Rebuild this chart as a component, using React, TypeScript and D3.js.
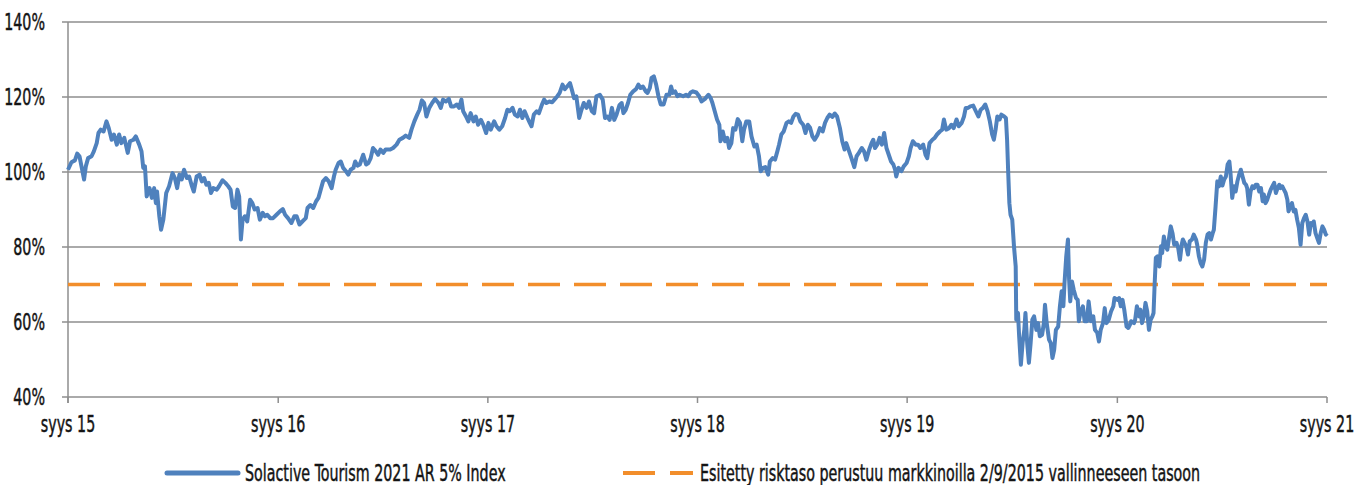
import * as d3 from "d3";
import { useEffect, useRef } from "react";

const WIDTH = 1369;
const HEIGHT = 485;

const startDate = new Date(2015, 8, 1);
const endDate = new Date(2021, 8, 1);

// [days after 1.9.2015, index level %]
const index2015 = [
  [0, 100.6], [6, 102.6], [12, 103.1], [16, 104.9], [20, 104.2], [24, 101.1], [28, 98.0], [31, 101.5],
  [35, 103.7], [41, 104.2], [45, 105.5], [50, 107.7], [53, 110.4], [57, 111.3], [62, 110.8], [67, 113.5],
  [71, 111.7], [76, 108.6], [80, 110.0], [85, 107.3], [89, 110.0], [93, 107.7], [98, 109.1], [104, 105.1],
  [108, 108.2], [114, 108.6], [118, 109.5], [124, 107.3], [128, 105.5], [131, 101.1], [134, 101.5], [137, 93.5],
  [142, 95.7], [146, 93.1], [150, 95.7], [153, 91.7], [155, 94.8], [159, 88.2], [162, 84.6], [166, 87.3],
  [171, 94.4], [176, 96.2], [182, 99.7], [186, 98.4], [190, 95.7], [194, 99.3], [198, 98.0], [202, 100.6],
  [207, 98.4], [211, 98.8], [215, 96.6], [219, 94.8], [224, 98.8], [229, 99.3], [233, 97.5], [237, 98.4],
  [241, 96.6], [245, 97.1], [249, 94.4], [253, 95.7], [259, 95.3], [263, 96.2], [269, 97.8], [274, 97.1],
  [279, 96.2], [283, 95.3], [287, 90.8], [291, 90.4], [295, 95.3], [298, 93.5], [301, 82.0], [304, 87.3],
  [308, 88.2], [312, 86.8], [317, 92.6], [321, 91.7], [325, 90.0], [330, 90.4], [334, 87.3], [339, 89.1],
  [343, 88.2], [347, 88.6], [352, 87.7], [357, 87.7], [363, 88.6], [369, 89.5], [374, 90.1], [378, 88.6],
  [383, 87.7], [389, 86.4], [394, 88.2], [398, 88.2], [403, 86.0], [408, 86.8], [414, 87.7], [417, 90.4],
  [422, 91.2], [427, 90.4], [432, 92.2], [436, 93.1], [440, 95.3], [444, 97.5], [449, 98.4], [454, 97.5],
  [459, 95.7], [463, 98.8], [466, 100.6], [471, 102.4], [475, 102.8], [479, 101.1], [484, 100.2], [488, 99.3],
  [492, 100.6], [497, 101.1], [500, 102.8], [504, 101.7], [508, 102.0], [514, 104.6], [519, 102.0], [523, 102.4],
  [527, 103.7], [531, 106.4], [536, 105.5], [540, 104.6], [544, 106.0], [549, 105.1], [553, 106.0],
];

const index2017 = [
  [561, 106.0], [566, 106.4], [572, 107.3], [577, 108.6], [583, 109.1], [588, 109.7], [594, 109.1], [598, 111.3],
  [603, 113.5], [608, 115.3], [612, 116.6], [616, 119.1], [620, 118.4], [624, 114.8], [629, 117.1], [634, 118.4],
  [639, 119.5], [645, 118.4], [649, 117.1], [653, 119.3], [658, 118.8], [663, 119.5], [667, 117.5], [672, 117.5],
  [677, 118.0], [681, 117.1], [685, 119.3], [688, 116.2], [693, 114.8], [697, 113.5], [701, 115.7], [706, 113.5],
  [710, 114.8], [714, 112.6], [719, 113.9], [723, 112.6], [728, 110.4], [732, 113.1], [736, 111.3], [742, 113.5],
  [746, 112.2], [751, 111.3], [756, 112.2], [761, 114.4], [765, 116.6], [769, 116.2], [774, 117.1], [778, 115.3],
  [783, 114.8], [787, 116.6], [791, 114.4], [795, 116.2], [800, 114.4], [804, 113.1], [807, 112.2], [811, 115.3],
  [816, 116.2], [820, 115.7], [825, 117.9], [829, 119.3], [833, 118.4], [838, 118.8], [843, 118.6], [848, 119.5],
  [852, 120.2], [856, 121.1], [861, 123.3], [865, 122.1], [869, 122.8], [874, 123.7], [878, 121.5], [881, 119.7],
  [885, 120.2], [890, 114.4], [894, 116.6], [898, 118.4], [903, 117.1], [907, 118.8], [912, 116.2], [916, 115.7],
  [920, 120.2], [926, 120.6], [931, 119.3], [935, 114.4], [939, 114.8], [943, 113.9], [947, 117.1], [951, 113.9],
  [955, 115.3], [960, 117.8], [964, 118.4], [967, 115.7], [971, 116.6], [975, 118.4], [979, 120.6], [984, 121.5],
  [989, 122.1], [993, 123.3], [997, 122.4], [1001, 122.8], [1006, 121.5], [1009, 121.1], [1013, 122.4], [1016, 125.1],
  [1020, 125.5], [1024, 123.3], [1028, 120.2], [1032, 118.0], [1037, 118.0], [1042, 120.6], [1047, 120.6], [1050, 122.8],
  [1053, 121.1], [1057, 121.5], [1061, 120.2], [1065, 120.6], [1071, 120.2], [1076, 120.6], [1080, 120.2],
];

const index2018 = [
  [1084, 121.2], [1088, 121.5], [1094, 121.2], [1099, 120.2], [1103, 118.8], [1109, 119.5], [1115, 120.6], [1119, 119.7],
  [1122, 118.4], [1126, 116.2], [1130, 114.0], [1134, 112.6], [1136, 108.2], [1140, 110.8], [1144, 108.2], [1148, 109.1],
  [1151, 106.4], [1155, 107.7], [1158, 111.7], [1162, 111.3], [1166, 114.1], [1170, 113.1], [1174, 108.2], [1177, 111.3],
  [1181, 113.5], [1186, 113.5], [1190, 109.5], [1195, 106.8], [1199, 107.3], [1203, 104.2], [1206, 100.2], [1210, 101.1],
  [1214, 101.3], [1219, 99.3], [1222, 102.8], [1227, 103.7], [1231, 103.3], [1235, 105.5], [1238, 107.3], [1242, 110.0],
  [1246, 110.8], [1251, 113.1], [1255, 113.5], [1259, 113.1], [1263, 114.8], [1267, 115.5], [1271, 115.3], [1275, 113.5],
  [1280, 112.6], [1284, 110.4], [1288, 112.6], [1292, 111.8], [1296, 109.5], [1300, 108.6], [1305, 109.9], [1309, 111.7],
  [1314, 110.8], [1318, 113.1], [1322, 114.4], [1326, 115.3], [1331, 114.7], [1335, 115.6], [1339, 114.8], [1344, 111.7],
  [1348, 108.2], [1352, 106.0], [1355, 107.7], [1360, 105.5], [1364, 103.7], [1369, 101.3], [1373, 104.2], [1377, 105.1],
  [1382, 106.4], [1386, 105.5], [1390, 103.3], [1395, 106.0], [1399, 107.7], [1402, 108.6], [1405, 106.4], [1409, 107.3],
  [1413, 109.1], [1417, 107.3], [1421, 110.4], [1425, 106.4], [1429, 104.6], [1433, 102.8], [1437, 102.0], [1440, 100.6],
  [1442, 98.8], [1446, 101.1], [1451, 100.2], [1455, 101.5], [1460, 102.4], [1464, 104.2], [1467, 106.4], [1471, 108.2],
  [1476, 107.3], [1480, 107.3], [1484, 106.4], [1489, 107.3], [1493, 104.6], [1496, 103.7], [1500, 107.7], [1505, 108.6],
  [1509, 109.1], [1513, 110.0], [1518, 110.8], [1522, 111.3], [1525, 114.0], [1529, 111.3], [1534, 111.7], [1538, 112.6],
  [1542, 111.7], [1547, 114.0], [1551, 112.2], [1556, 113.1], [1560, 114.8], [1563, 117.1], [1567, 117.1], [1571, 117.5],
  [1576, 117.7], [1580, 116.4], [1585, 114.8], [1589, 116.6], [1593, 117.1], [1597, 118.0], [1601, 116.2], [1605, 113.5],
  [1609, 110.0], [1612, 108.6], [1615, 111.3], [1618, 114.8], [1622, 114.0], [1625, 115.3], [1630, 114.8], [1633, 114.4],
];

const index2020 = [
  [1635, 108.6], [1637, 99.7], [1639, 91.7], [1641, 88.6], [1644, 87.3], [1647, 80.2], [1650, 74.8], [1651, 60.6],
  [1654, 62.4], [1656, 56.2], [1659, 48.6], [1662, 54.4], [1665, 57.9], [1667, 62.4], [1670, 54.4], [1673, 49.1],
  [1676, 54.4], [1679, 60.6], [1682, 61.5], [1686, 57.9], [1689, 59.7], [1692, 56.2], [1696, 56.6], [1699, 59.7],
  [1701, 64.6], [1704, 59.7], [1708, 55.3], [1711, 54.4], [1714, 50.4], [1717, 52.6], [1720, 57.9], [1724, 58.8],
  [1727, 64.2], [1730, 68.2], [1733, 64.2], [1735, 70.4], [1738, 77.5], [1741, 82.0], [1743, 71.3], [1745, 65.5],
  [1748, 70.8], [1751, 68.6], [1755, 66.4], [1758, 65.9], [1760, 60.2], [1763, 62.8], [1767, 64.2], [1770, 60.2],
  [1774, 60.2], [1777, 65.5], [1781, 60.2], [1785, 61.5], [1788, 57.9], [1792, 57.1], [1795, 54.8], [1798, 57.9],
  [1802, 59.7], [1805, 63.7], [1808, 59.7], [1812, 60.6], [1816, 62.8], [1820, 64.2], [1822, 66.4], [1827, 65.9],
  [1830, 66.4], [1833, 64.2], [1836, 65.9], [1839, 63.3], [1843, 58.8], [1846, 58.4], [1849, 59.3], [1851, 60.2],
  [1856, 59.7], [1858, 60.6], [1861, 64.2], [1865, 61.5], [1867, 63.3], [1870, 59.7], [1873, 61.5], [1876, 65.1],
  [1879, 62.8], [1882, 57.9], [1885, 60.6], [1888, 61.5], [1890, 62.4], [1892, 70.4], [1894, 77.1], [1897, 77.5],
  [1900, 74.8], [1903, 80.2], [1905, 78.4], [1908, 82.8], [1911, 80.2], [1914, 79.3], [1917, 82.4], [1920, 85.5],
  [1923, 83.7], [1926, 80.6], [1930, 81.1], [1933, 79.7], [1936, 76.6], [1939, 80.6], [1941, 82.0], [1944, 81.1],
  [1947, 80.2], [1950, 78.0], [1953, 81.5], [1957, 82.0], [1960, 83.3], [1964, 82.0], [1966, 80.6], [1969, 77.5],
  [1972, 75.7], [1975, 74.8], [1978, 76.6], [1981, 81.1], [1984, 83.3], [1987, 83.7], [1990, 82.0], [1993, 83.7],
  [1995, 84.6], [1998, 90.8], [2001, 97.5], [2004, 96.2], [2007, 98.8], [2010, 96.4], [2013, 98.0], [2016, 98.8],
  [2019, 102.0], [2022, 102.8], [2024, 99.7], [2027, 93.1], [2030, 96.2], [2033, 94.8], [2036, 97.5], [2039, 99.3],
  [2042, 100.6], [2045, 98.8], [2048, 97.1], [2051, 96.6], [2053, 95.7], [2056, 91.3], [2059, 94.8], [2062, 96.2],
  [2065, 95.7], [2068, 96.6], [2071, 96.6], [2074, 94.8], [2077, 95.7], [2080, 92.2], [2082, 94.0], [2085, 91.7],
  [2088, 92.6], [2091, 94.0], [2094, 95.3], [2097, 96.2], [2100, 97.1], [2103, 94.4], [2106, 95.7], [2109, 96.6],
  [2111, 95.7], [2114, 96.2], [2117, 95.3], [2120, 94.4], [2123, 92.6], [2125, 89.5], [2128, 90.8], [2131, 91.7],
  [2134, 89.5], [2137, 89.9], [2140, 87.3], [2143, 85.1], [2146, 80.6], [2149, 86.4], [2152, 87.7], [2155, 88.6],
  [2158, 86.8], [2161, 83.3], [2164, 86.4], [2167, 85.9], [2169, 86.8], [2172, 83.7], [2175, 82.4], [2178, 81.1],
  [2181, 83.7], [2184, 85.5], [2187, 84.6], [2190, 83.3], [2192, 83.7],
];

const riskLevel = 70;
const yTicks = [40, 60, 80, 100, 120, 140];
const xTickYears = [2015, 2016, 2017, 2018, 2019, 2020, 2021];
const xTickLabels = ["syys 15", "syys 16", "syys 17", "syys 18", "syys 19", "syys 20", "syys 21"];
const seriesLabel = "Solactive Tourism 2021 AR 5% Index";
const riskLabel = "Esitetty risktaso perustuu markkinoilla 2/9/2015 vallinneeseen tasoon";

const BLUE = "#4f81bd";
const ORANGE = "#f28e2b";
const GRID = "#8e8e8e";
const INK = "#141414";
const FONT = "'Liberation Sans Narrow', 'DejaVu Sans Condensed', sans-serif";
const SQUEEZE = 0.69;

type Pt = { date: Date; value: number };

export default function App() {
  const ref = useRef<SVGSVGElement | null>(null);

  useEffect(() => {
    if (!ref.current) return;
    document.body.style.margin = "0";

    const margin = { top: 22, right: 42, bottom: 88, left: 68 };
    const innerW = WIDTH - margin.left - margin.right;
    const innerH = HEIGHT - margin.top - margin.bottom;

    const parsed: Pt[] = [...index2015, ...index2017, ...index2018, ...index2020].map(([d, v]) => ({
      date: d3.timeDay.offset(startDate, d),
      value: v,
    }));

    const x = d3.scaleTime().domain([startDate, endDate]).range([0, innerW]);
    const y = d3.scaleLinear().domain([40, 140]).range([innerH, 0]);

    const svg = d3.select(ref.current);
    svg.selectAll("*").remove();
    const g = svg.append("g").attr("transform", `translate(${margin.left},${margin.top})`);

    // condensed label: the chart font is narrower than anything installed
    const label = (
      parent: d3.Selection<SVGGElement, unknown, null, undefined>,
      tx: number,
      ty: number,
      text: string,
      anchor: string,
      size = 23
    ) => {
      parent
        .append("g")
        .attr("transform", `translate(${tx},${ty}) scale(${SQUEEZE},1)`)
        .append("text")
        .attr("text-anchor", anchor)
        .attr("font-family", FONT)
        .attr("font-size", size)
        .attr("fill", INK)
        .attr("stroke", INK)
        .attr("stroke-width", 0.45)
        .text(text);
    };

    // gridlines + y ticks
    yTicks.forEach((t) => {
      g.append("line")
        .attr("x1", -6)
        .attr("x2", innerW)
        .attr("y1", y(t))
        .attr("y2", y(t))
        .attr("stroke", GRID)
        .attr("stroke-width", 1.5);
      label(g, -23, y(t) + 8, `${t}%`, "end");
    });

    // y axis
    g.append("line")
      .attr("x1", 0)
      .attr("x2", 0)
      .attr("y1", 0)
      .attr("y2", innerH + 6)
      .attr("stroke", GRID)
      .attr("stroke-width", 1.5);

    // x ticks
    const xTicks = xTickYears.map((yr) => new Date(yr, 8, 1));
    xTicks.forEach((d, i) => {
      g.append("line")
        .attr("x1", x(d))
        .attr("x2", x(d))
        .attr("y1", innerH)
        .attr("y2", innerH + 6)
        .attr("stroke", GRID)
        .attr("stroke-width", 1.5);
      label(g, x(d), innerH + 35, xTickLabels[i], "middle");
    });

    const line = d3
      .line<Pt>()
      .x((d) => x(d.date))
      .y((d) => y(d.value));

    g.append("path")
      .datum([
        { date: startDate, value: riskLevel },
        { date: endDate, value: riskLevel },
      ])
      .attr("fill", "none")
      .attr("stroke", ORANGE)
      .attr("stroke-width", 3.5)
      .attr("stroke-dasharray", "32,14")
      .attr("d", line);

    g.append("path")
      .datum(parsed)
      .attr("fill", "none")
      .attr("stroke", BLUE)
      .attr("stroke-width", 4)
      .attr("stroke-linejoin", "round")
      .attr("d", line);

    // legend
    const lg = svg.append("g");
    const ly = 473;
    lg.append("line")
      .attr("x1", 167)
      .attr("x2", 238)
      .attr("y1", ly)
      .attr("y2", ly)
      .attr("stroke", BLUE)
      .attr("stroke-width", 5)
      .attr("stroke-linecap", "round");
    label(lg, 245, ly + 8, seriesLabel, "start");

    lg.append("line")
      .attr("x1", 623)
      .attr("x2", 693)
      .attr("y1", ly)
      .attr("y2", ly)
      .attr("stroke", ORANGE)
      .attr("stroke-width", 4)
      .attr("stroke-dasharray", "32,15")
      .attr("stroke-linecap", "butt");
    label(lg, 700, ly + 8, riskLabel, "start");
  }, []);

  return (
    <svg
      ref={ref}
      width={WIDTH}
      height={HEIGHT}
      style={{ display: "block", background: "#fff" }}
      role="img"
      aria-label="Solactive Tourism 2021 AR 5% Index"
    />
  );
}
